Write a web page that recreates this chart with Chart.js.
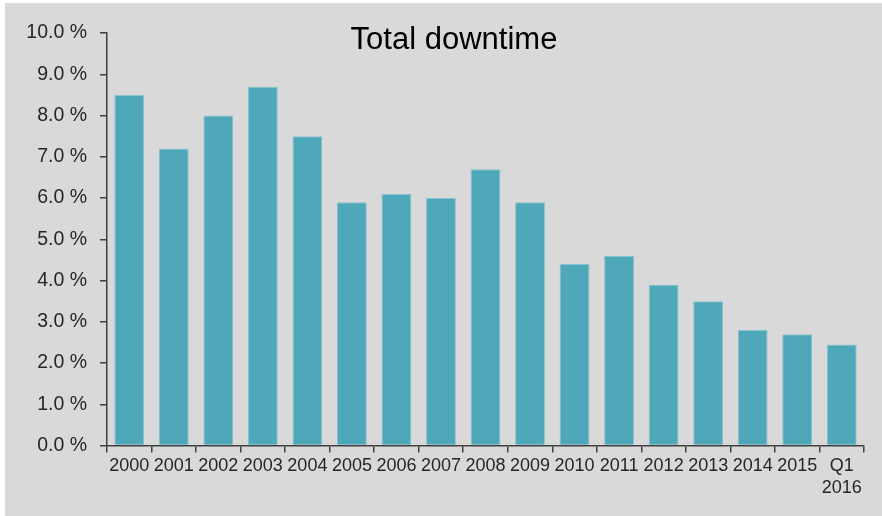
<!DOCTYPE html>
<html>
<head>
<meta charset="utf-8">
<script src="https://cdn.jsdelivr.net/npm/chart.js@4"></script>
<style>
  html, body { margin: 0; padding: 0; background: #fff; }
  #wrap { position: absolute; left: 5px; top: 3px; width: 877px; height: 513px; background: #d9d9d9; }
  canvas { display: block; }
</style>
</head>
<body>
<div id="wrap"><canvas id="downtimeChart" width="877" height="513"></canvas></div>
<script>
// === Data ===
const years = ['2000', '2001', '2002', '2003', '2004', '2005', '2006', '2007', '2008',
  '2009', '2010', '2011', '2012', '2013', '2014', '2015', ['Q1', '2016']];
const downtimePct = [8.5, 7.2, 8.0, 8.7, 7.5, 5.9, 6.1, 6.0, 6.7, 5.9, 4.4, 4.6, 3.9, 3.5, 2.8, 2.7, 2.45];
const yTicks = [0, 1, 2, 3, 4, 5, 6, 7, 8, 9, 10];
const chartTitle = 'Total downtime';

const axisColor = '#404040';
const fontFamily = 'Liberation Sans, Arial, sans-serif';

// title drawn by hand so it can sit left of centre like the original slide
const titlePlugin = {
  id: 'slideTitle',
  afterDraw(chart) {
    const c = chart.ctx;
    c.save();
    c.font = '31px ' + fontFamily;
    c.fillStyle = '#000';
    c.textAlign = 'center';
    c.textBaseline = 'alphabetic';
    c.fillText(chartTitle, 449, 46);
    c.restore();
  }
};

new Chart(document.getElementById('downtimeChart'), {
  type: 'bar',
  data: {
    labels: years,
    datasets: [{
      label: chartTitle,
      data: downtimePct,
      backgroundColor: '#4fa7ba',
      borderColor: '#86c2cf',
      borderWidth: 1,
      categoryPercentage: 1,
      barPercentage: 0.67
    }]
  },
  options: {
    responsive: false,
    animation: false,
    layout: { padding: { top: 30, right: 18, left: 0, bottom: 0 } },
    plugins: {
      legend: { display: false },
      tooltip: { enabled: false }
    },
    scales: {
      x: {
        grid: { drawOnChartArea: false, offset: true, tickLength: 7, color: axisColor, lineWidth: 1.5 },
        border: { color: axisColor, width: 1.5 },
        ticks: { color: '#262626', font: { family: fontFamily, size: 18 }, maxRotation: 0, autoSkip: false, padding: 3 },
        afterFit(scale) { scale.height = 70.5; }
      },
      y: {
        min: 0,
        max: 10,
        afterBuildTicks(scale) { scale.ticks = yTicks.map(v => ({ value: v })); },
        grid: { drawOnChartArea: false, tickLength: 7, color: axisColor, lineWidth: 1.5 },
        border: { color: axisColor, width: 1.5 },
        ticks: {
          color: '#262626',
          font: { family: fontFamily, size: 19.5 },
          padding: 13,
          callback: v => v.toFixed(1) + ' %'
        },
        afterFit(scale) { scale.width = 102; }
      }
    }
  },
  plugins: [titlePlugin]
});
</script>
</body>
</html>
